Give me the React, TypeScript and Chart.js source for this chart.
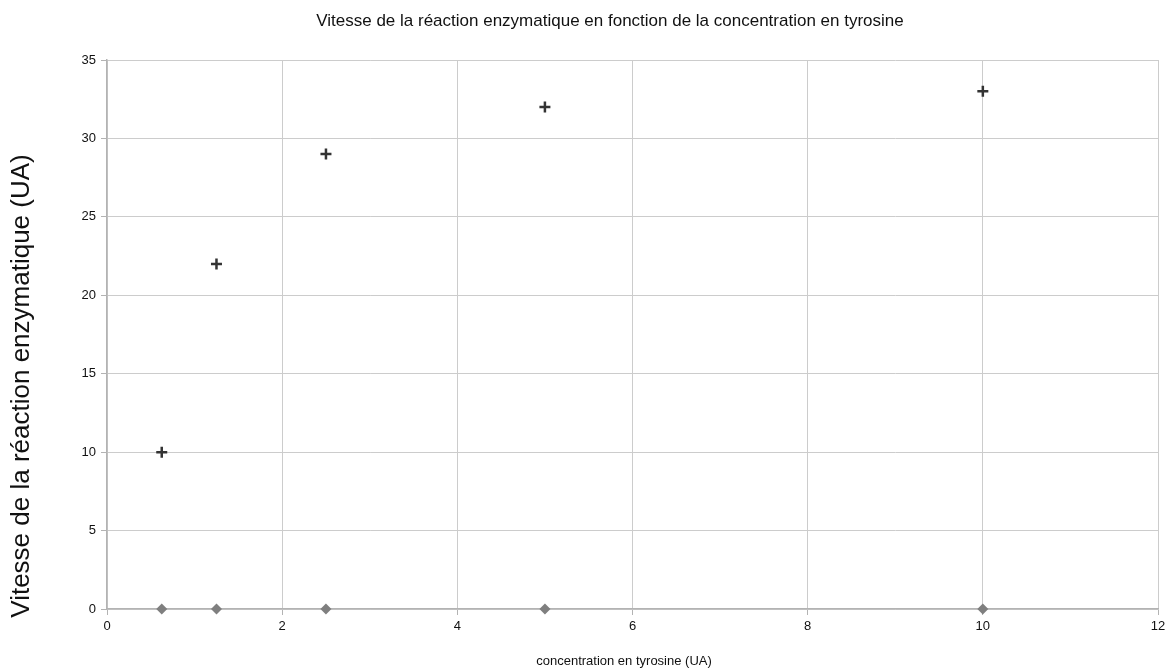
import React, { useEffect, useRef } from "react";
import { Chart, registerables } from "chart.js";

Chart.register(...registerables);

const concentrations = [0.625, 1.25, 2.5, 5, 10];
const vitesses = [10, 22, 29, 32, 33];
const baseline = [0, 0, 0, 0, 0];

const chartTitle = "Vitesse de la réaction enzymatique en fonction de la concentration en tyrosine";
const xTitle = "concentration en tyrosine (UA)";
const yTitle = "Vitesse de la réaction enzymatique (UA)";

const FONT = "'Liberation Sans', Arial, sans-serif";

const titlesPlugin = {
  id: "titlesPlugin",
  afterDraw(chart: any) {
    const ctx = chart.ctx;
    ctx.save();
    ctx.fillStyle = "#111";
    ctx.textAlign = "center";
    ctx.textBaseline = "middle";
    // main title
    ctx.font = `17px ${FONT}`;
    ctx.fillText(chartTitle, 610, 21);
    // x axis title
    ctx.font = `13px ${FONT}`;
    ctx.fillText(xTitle, 624, 661);
    // y axis title
    ctx.translate(22, 386);
    ctx.rotate(-Math.PI / 2);
    ctx.font = `26px ${FONT}`;
    ctx.fillText(yTitle, 0, 0);
    ctx.restore();
  },
};

export default function App() {
  const ref = useRef<HTMLCanvasElement | null>(null);

  useEffect(() => {
    document.body.style.margin = "0";
    const ctx = ref.current!.getContext("2d")!;
    const chart = new Chart(ctx, {
      type: "scatter",
      data: {
        datasets: [
          {
            label: "Vitesse",
            data: concentrations.map((x, i) => ({ x, y: vitesses[i] })),
            pointStyle: "cross",
            pointRadius: 5.5,
            pointBorderWidth: 2.5,
            borderColor: "#333333",
            backgroundColor: "#333333",
            showLine: false,
            clip: false,
          },
          {
            label: "Base",
            data: concentrations.map((x, i) => ({ x, y: baseline[i] })),
            pointStyle: "rectRot",
            pointRadius: 5.5,
            pointBorderWidth: 0,
            borderColor: "#7f7f7f",
            backgroundColor: "#7f7f7f",
            showLine: false,
            clip: false,
          },
        ],
      },
      options: {
        animation: false,
        responsive: false,
        maintainAspectRatio: false,
        layout: { padding: { left: 0, right: 13, top: 60, bottom: 0 } },
        plugins: {
          legend: { display: false },
          tooltip: { enabled: false },
          title: { display: false },
        },
        scales: {
          x: {
            type: "linear",
            min: 0,
            max: 12,
            ticks: {
              stepSize: 2,
              color: "#111",
              font: { family: FONT, size: 13 },
              padding: 4,
            },
            grid: { color: "#cccccc", tickLength: 6, tickColor: "#b3b3b3" },
            border: { color: "#b3b3b3", width: 1.5 },
            afterFit: (s: any) => {
              s.height = 61;
            },
          },
          y: {
            type: "linear",
            min: 0,
            max: 35,
            ticks: {
              stepSize: 5,
              color: "#111",
              font: { family: FONT, size: 13 },
              padding: 5,
            },
            grid: { color: "#cccccc", tickLength: 6, tickColor: "#b3b3b3" },
            border: { color: "#b3b3b3", width: 1.5 },
            afterFit: (s: any) => {
              s.width = 107;
            },
          },
        },
      },
      plugins: [titlesPlugin],
    });
    return () => chart.destroy();
  }, []);

  return (
    <div style={{ width: 1171, height: 670, background: "#fff" }}>
      <canvas ref={ref} width={1171} height={670} style={{ width: 1171, height: 670, display: "block" }} />
    </div>
  );
}
